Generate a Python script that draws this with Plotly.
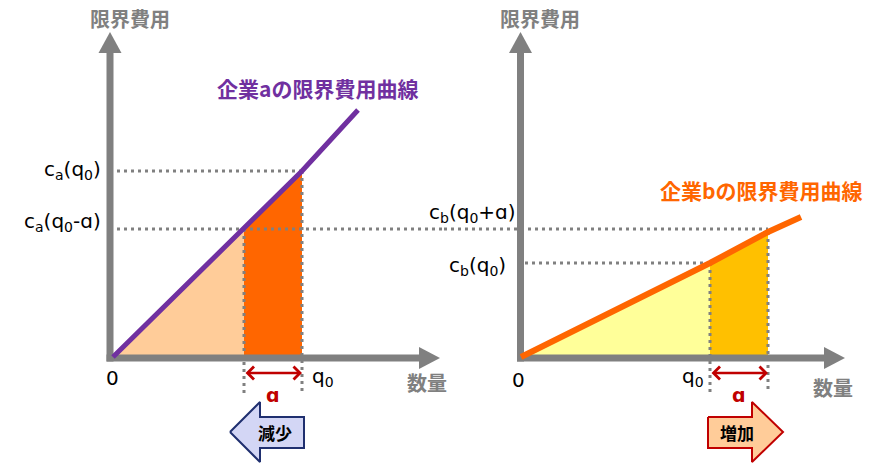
import plotly.graph_objects as go

# ---- diagram values (quantity / marginal-cost units, origin = 0) ----
# firm a: points on the marginal cost curve: origin, q0-ɑ, q0, end of drawn curve
q_a = [0, 131, 189, 245]
c_a = [0, 128, 186, 247]
# firm b: origin, q0, q0+ɑ, end of drawn curve
q_b = [0, 189, 247, 280]
c_b = [0, 94, 125, 140]

label_ca = ["c<sub>a</sub>(q<sub>0</sub>)", "c<sub>a</sub>(q<sub>0</sub>-ɑ)"]
label_cb = ["c<sub>b</sub>(q<sub>0</sub>)", "c<sub>b</sub>(q<sub>0</sub>+ɑ)"]
curve_a_name = "企業aの限界費用曲線"
curve_b_name = "企業bの限界費用曲線"
y_title = "限界費用"
x_title = "数量"
arrow_a_text = "減少"
arrow_b_text = "増加"

GRAY = "#808080"
PURPLE = "#7030A0"
ORANGE = "#FF6600"
RED = "#C00000"
JP = "Noto Sans CJK JP"
LAT = "DejaVu Sans"

# page offset of the figure (browser body margin)
OFF = 8
XA_RANGE = [-113 + OFF, 323 + OFF]
XB_RANGE = [-85 + OFF, 351 + OFF]
Y_RANGE = [-106 - OFF, 357 - OFF]

fig = go.Figure()


def poly(xs, ys, ax, fillcolor=None, linecolor=None, width=0, dash=None, fill=True):
    fig.add_trace(go.Scatter(
        x=xs, y=ys, xaxis=ax, yaxis="y", mode="lines",
        fill="toself" if fill else None, fillcolor=fillcolor,
        line=dict(color=linecolor or "rgba(0,0,0,0)", width=width, dash=dash),
        hoverinfo="skip", showlegend=False))


# ---- filled areas ----
poly([0, q_a[1], q_a[1]], [0, 0, c_a[1]], "x", "#FFCC99")
poly([q_a[1], q_a[2], q_a[2], q_a[1]], [0, 0, c_a[2], c_a[1]], "x", ORANGE)
poly([0, q_b[1], q_b[1]], [0, 0, c_b[1]], "x2", "#FFFF99")
poly([q_b[1], q_b[2], q_b[2], q_b[1]], [0, 0, c_b[2], c_b[1]], "x2", "#FFC000")

# ---- dotted guide lines ----
DOT = "3px,4px"
below = -36
poly([4, q_a[2]], [c_a[2], c_a[2]], "x", linecolor=GRAY, width=3, dash=DOT, fill=False)
poly([4, XA_RANGE[1]], [c_a[1], c_a[1]], "x", linecolor=GRAY, width=3, dash=DOT, fill=False)
poly([q_a[1], q_a[1]], [c_a[1], below], "x", linecolor=GRAY, width=3, dash=DOT, fill=False)
poly([q_a[2], q_a[2]], [c_a[2], below], "x", linecolor=GRAY, width=3, dash=DOT, fill=False)
poly([XB_RANGE[0], q_b[2]], [c_a[1], c_a[1]], "x2", linecolor=GRAY, width=3, dash=DOT, fill=False)
poly([4, q_b[1]], [c_b[1], c_b[1]], "x2", linecolor=GRAY, width=3, dash=DOT, fill=False)
poly([q_b[1], q_b[1]], [c_b[1], below], "x2", linecolor=GRAY, width=3, dash=DOT, fill=False)
poly([q_b[2], q_b[2]], [c_b[2], below], "x2", linecolor=GRAY, width=3, dash=DOT, fill=False)

# ---- axes drawn as thick gray arrows ----
for ax, yx, xtip in (("x", -3, 327), ("x2", -0.5, 324)):
    poly([yx, yx], [-4.5, 305], ax, linecolor=GRAY, width=7, fill=False)
    poly([yx - 3.5, xtip - 20], [-1, -1], ax, linecolor=GRAY, width=7, fill=False)
    poly([yx - 11.5, yx + 11.5, yx], [304, 304, 325], ax, fillcolor=GRAY)
    poly([xtip - 21, xtip - 21, xtip], [-12, 10, -1], ax, fillcolor=GRAY)

# ---- marginal cost curves ----
poly(q_a, c_a, "x", linecolor=PURPLE, width=5, fill=False)
poly(q_b, c_b, "x2", linecolor=ORANGE, width=6, fill=False)

# ---- block arrows ----
poly([117, 147, 147, 191, 191, 147, 147, 117], [-75, -45, -60, -60, -91, -91, -105, -75],
     "x", fillcolor="#D3D6F5", linecolor="#1F2F6F", width=2)
poly([187, 231, 231, 262, 231, 231, 187, 187], [-60, -60, -45, -75, -105, -91, -91, -60],
     "x2", fillcolor="#FFCC99", linecolor=RED, width=2)

ann = []


def text(ax, x, y, t, size, color="black", family=LAT, bold=False, xanchor="center"):
    ann.append(dict(xref=ax, yref="y", x=x, y=y, text=f"<b>{t}</b>" if bold else t,
                    showarrow=False, xanchor=xanchor, yanchor="middle",
                    font=dict(size=size, color=color, family=family)))


text("x", 17, 339, y_title, 20, GRAY, JP, True)
text("x2", 19, 339, y_title, 20, GRAY, JP, True)
text("x", 314, -25, x_title, 20, GRAY, JP, True)
text("x2", 312, -30, x_title, 20, GRAY, JP, True)
text("x", 204, 269, curve_a_name, 21, PURPLE, JP, True)
text("x2", 240, 167, curve_b_name, 21, ORANGE, JP, True)
text("x", -1, -21, "0", 20)
text("x2", -3, -23, "0", 20)
text("x", q_a[2] + 21, -20, "q<sub>0</sub>", 20)
text("x2", q_b[1] - 17, -20, "q<sub>0</sub>", 20)
text("x", -10, c_a[2] + 1, label_ca[0], 20, xanchor="right")
text("x", -10, c_a[1] + 7, label_ca[1], 20, xanchor="right")
text("x2", -13, c_b[1] - 3, label_cb[0], 20, xanchor="right")
text("x2", -3, c_b[2] + 19, label_cb[1], 20, xanchor="right")
text("x", (q_a[1] + q_a[2]) / 2, -38, "ɑ", 19, RED, LAT, True)
text("x2", (q_b[1] + q_b[2]) / 2, -38, "ɑ", 19, RED, LAT, True)
text("x", 162, -75, arrow_a_text, 17, "black", JP, True)
text("x2", 216, -75, arrow_b_text, 17, "black", JP, True)

# red double-headed arrows marking ɑ
for ax, qs in (("x", (q_a[1], q_a[2])), ("x2", (q_b[1], q_b[2]))):
    ann.append(dict(xref=ax, yref="y", axref=ax, ayref="y", x=qs[1], y=-16, ax=qs[0], ay=-16,
                    text="", showarrow=True, arrowside="end+start", arrowhead=4,
                    startarrowhead=4, arrowsize=1, startarrowsize=1, arrowwidth=2.5,
                    arrowcolor=RED, standoff=0, startstandoff=0))

axis_common = dict(visible=False, fixedrange=True, showgrid=False, zeroline=False)
fig.update_layout(
    width=872, height=463, margin=dict(l=0, r=0, t=0, b=0),
    paper_bgcolor="white", plot_bgcolor="white", showlegend=False,
    xaxis=dict(domain=[0, 0.5], range=XA_RANGE, anchor="y", **axis_common),
    xaxis2=dict(domain=[0.5, 1], range=XB_RANGE, anchor="y", **axis_common),
    yaxis=dict(domain=[0, 1], range=Y_RANGE, **axis_common),
    annotations=ann,
)

fig.write_html("out.html")
